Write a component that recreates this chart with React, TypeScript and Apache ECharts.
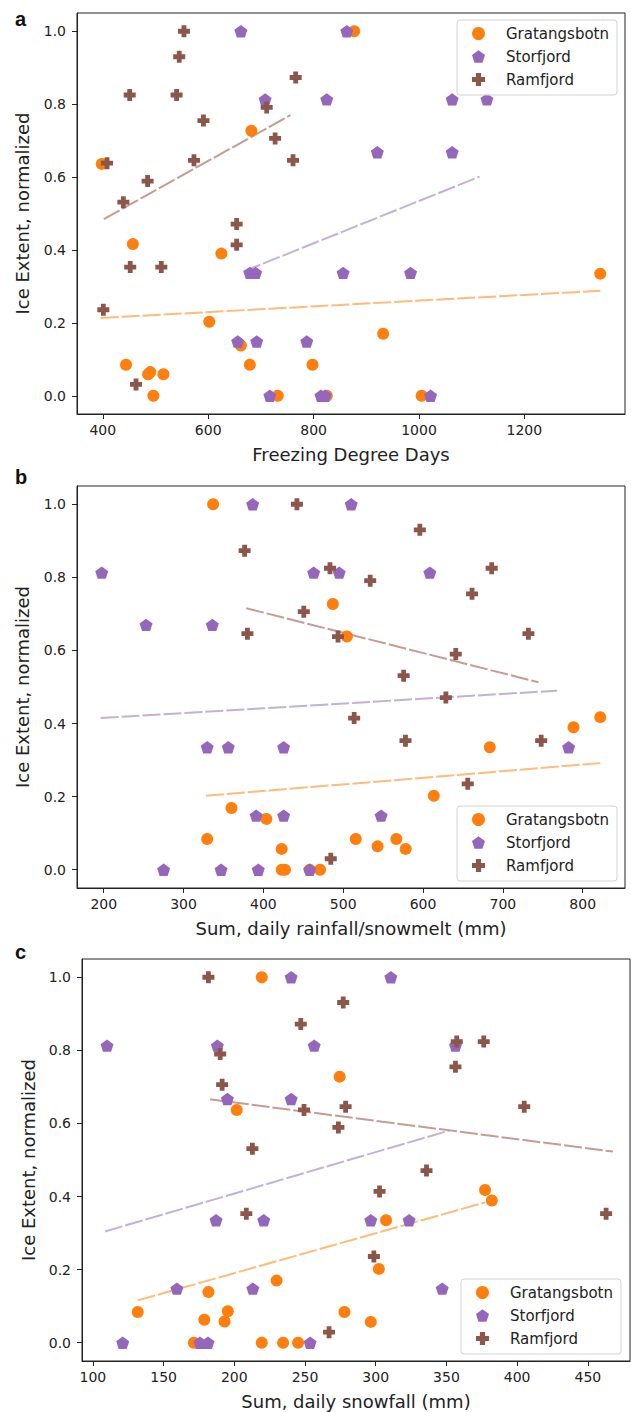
import React, { useEffect, useRef } from "react";
import * as echarts from "echarts";

// ---------- data ----------
const SITES = ["Gratangsbotn", "Storfjord", "Ramfjord"];
const Y_TICKS = [0, 0.2, 0.4, 0.6, 0.8, 1.0];
const X_TICKS_A = [400, 600, 800, 1000, 1200];
const X_TICKS_B = [200, 300, 400, 500, 600, 700, 800];
const X_TICKS_C = [100, 150, 200, 250, 300, 350, 400, 450];

// Panel a: Freezing Degree Days
const gratA = [[398,0.636],[457,0.416],[625,0.39],[682,0.727],[877,1.0],[602,0.203],[1344,0.335],[932,0.17],[662,0.138],[444,0.085],[486,0.059],[490,0.065],[515,0.059],[679,0.085],[798,0.085],[496,0],[732,0],[825,0],[1005,0]];
const storA = [[662,1.0],[863,1.0],[708,0.813],[825,0.813],[1063,0.813],[1129,0.813],[921,0.668],[1063,0.668],[679,0.337],[690,0.337],[856,0.337],[984,0.337],[656,0.149],[692,0.149],[787,0.149],[717,0],[814,0],[822,0],[1022,0]];
const ramA = [[554,1.0],[545,0.93],[766,0.873],[451,0.825],[540,0.825],[711,0.791],[591,0.755],[727,0.706],[408,0.638],[573,0.646],[761,0.646],[485,0.589],[439,0.531],[654,0.471],[654,0.414],[452,0.353],[511,0.353],[401,0.236],[463,0.031]];
const gratFitA = [[396,0.2135],[1344,0.288]];
const storFitA = [[667,0.341],[1115,0.601]];
const ramFitA = [[402,0.4845],[756,0.77]];

// Panel b: Sum, daily rainfall/snowmelt (mm)
const gratB = [[337,1.0],[487,0.727],[504.6,0.638],[822,0.4175],[788.5,0.39],[683.6,0.335],[613.5,0.2024],[360,0.169],[403.7,0.139],[329.6,0.084],[422.9,0.057],[515.7,0.084],[543,0.064],[566.6,0.084],[578.2,0.057],[423,0],[427,0],[458,0],[471,0]];
const storB = [[386.6,1.0],[510,1.0],[197.5,0.813],[463,0.813],[495,0.813],[608.5,0.813],[253,0.67],[336,0.67],[329.6,0.335],[356,0.335],[425.4,0.335],[782.4,0.335],[391,0.148],[425.4,0.148],[547.5,0.148],[275,0],[347,0],[393.6,0],[458,0]];
const ramB = [[442,1.0],[596,0.93],[376.5,0.873],[483.4,0.825],[686,0.825],[533.8,0.791],[661.4,0.755],[450.6,0.706],[380,0.646],[493.5,0.638],[732,0.646],[641,0.59],[575.7,0.531],[628.6,0.471],[513.7,0.415],[578,0.353],[748,0.353],[656,0.235],[484.4,0.03]];
const gratFitB = [[328,0.2024],[822,0.2917]];
const storFitB = [[196,0.415],[768,0.49]];
const ramFitB = [[378.5,0.7156],[744.6,0.513]];

// Panel c: Sum, daily snowfall (mm)
const gratC = [[219.4,1.0],[274.5,0.728],[201.7,0.637],[377.3,0.418],[382.1,0.389],[307.3,0.335],[302.2,0.202],[229.9,0.17],[181.7,0.139],[131.7,0.084],[195.4,0.086],[178.8,0.063],[193.1,0.058],[277.9,0.084],[296.5,0.057],[171.4,0],[219.4,0],[234.5,0],[245.1,0]];
const storC = [[240.2,1.0],[310.7,1.0],[110,0.813],[188,0.813],[256.5,0.813],[356.4,0.813],[195.1,0.667],[240.2,0.667],[187.1,0.335],[220.8,0.335],[296.5,0.335],[323.6,0.335],[159.4,0.148],[213.1,0.148],[347,0.148],[121.1,0],[175.7,0],[181.4,0],[253.6,0]];
const ramC = [[181.7,1.0],[277,0.931],[247,0.872],[357.3,0.824],[376.4,0.824],[190,0.79],[356.4,0.755],[191.4,0.706],[278.7,0.646],[405,0.646],[249.3,0.637],[273.6,0.589],[212.8,0.531],[335.9,0.471],[302.7,0.414],[208.5,0.353],[462.9,0.353],[298.7,0.236],[267,0.029]];
const gratFitC = [[131.7,0.1158],[377.3,0.384]];
const storFitC = [[108.6,0.3045],[352.1,0.5807]];
const ramFitC = [[182.8,0.666],[467.8,0.523]];

const X_TITLES = ["Freezing Degree Days", "Sum, daily rainfall/snowmelt (mm)", "Sum, daily snowfall (mm)"];
const Y_TITLE = "Ice Extent, normalized";
const PANEL_LABELS = ["a", "b", "c"];

// ---------- styles ----------
const COLORS = ["#ff7f0e", "#9467bd", "#8c564b"];
const FIT_COLORS = ["#ffbb78", "#c5b0d5", "#c49c94"];
const PENTAGON = "path://M0,-1L0.951,-0.309L0.588,0.809L-0.588,0.809L-0.951,-0.309Z";
const PLUS = "path://M3.6,0H8.4V3.6H12V8.4H8.4V12H3.6V8.4H0V3.6H3.6Z";
const SYMBOLS = ["circle", PENTAGON, PLUS];
const SYMBOL_SIZES = [12, 13, 12];
const FONT = "DejaVu Sans";

const PANELS = [
  { grid: { left: 77, top: 13, width: 548, height: 401 }, xMin: 351, xMax: 1391, xTicks: X_TICKS_A,
    pts: [gratA, storA, ramA], fits: [gratFitA, storFitA, ramFitA],
    legend: { left: 457, top: 20 }, label: { x: 15, y: 29 }, yGap: 46 },
  { grid: { left: 77, top: 486, width: 548, height: 402 }, xMin: 166.5, xMax: 853, xTicks: X_TICKS_B,
    pts: [gratB, storB, ramB], fits: [gratFitB, storFitB, ramFitB],
    legend: { left: 457, top: 806 }, label: { x: 15, y: 487 }, yGap: 46 },
  { grid: { left: 82, top: 959, width: 548, height: 402 }, xMin: 92.3, xMax: 479.8, xTicks: X_TICKS_C,
    pts: [gratC, storC, ramC], fits: [gratFitC, storFitC, ramFitC],
    legend: { left: 461, top: 1279 }, label: { x: 15, y: 962 }, yGap: 45 },
];

export default function App() {
  const ref = useRef<HTMLDivElement>(null);
  useEffect(() => {
    if (!ref.current) return;
    const chart = echarts.init(ref.current, null, { renderer: "svg" });
    const grid: any[] = [];
    const xAxis: any[] = [];
    const yAxis: any[] = [];
    const series: any[] = [];
    const legend: any[] = [];
    const graphic: any[] = [];
    PANELS.forEach((p, i) => {
      grid.push({ ...p.grid, show: true, borderColor: "#222", borderWidth: 1, backgroundColor: "transparent" });
      xAxis.push({
        type: "value", gridIndex: i, min: p.xMin, max: p.xMax,
        name: X_TITLES[i], nameLocation: "middle", nameGap: 31,
        nameTextStyle: { fontFamily: FONT, fontSize: 18, color: "#222" },
        axisLine: { show: true, onZero: false, lineStyle: { color: "#222", width: 1 } },
        axisTick: { show: true, length: 5, customValues: p.xTicks, lineStyle: { color: "#222" } },
        axisLabel: { customValues: p.xTicks, margin: 9, fontFamily: FONT, fontSize: 14, color: "#222",
          formatter: (v: number) => String(v) },
        splitLine: { show: false },
      });
      yAxis.push({
        type: "value", gridIndex: i, min: -0.05, max: 1.05,
        name: Y_TITLE, nameLocation: "middle", nameGap: p.yGap, nameRotate: 90,
        nameTextStyle: { fontFamily: FONT, fontSize: 18, color: "#222" },
        axisLine: { show: true, onZero: false, lineStyle: { color: "#222", width: 1 } },
        axisTick: { show: true, length: 5, customValues: Y_TICKS, lineStyle: { color: "#222" } },
        axisLabel: { customValues: Y_TICKS, margin: 11, fontFamily: FONT, fontSize: 14, color: "#222",
          formatter: (v: number) => v.toFixed(1) },
        splitLine: { show: false },
      });
      SITES.forEach((s, k) => {
        series.push({
          type: "line", name: s + " fit", xAxisIndex: i, yAxisIndex: i, data: p.fits[k],
          showSymbol: false, silent: true, z: 1,
          lineStyle: { color: FIT_COLORS[k], width: 2, type: [18, 3] },
        });
      });
      SITES.forEach((s, k) => {
        series.push({
          type: "scatter", name: s, xAxisIndex: i, yAxisIndex: i, data: p.pts[k],
          symbol: SYMBOLS[k], symbolSize: SYMBOL_SIZES[k], symbolKeepAspect: true, z: 3,
          itemStyle: { color: COLORS[k], opacity: 1 },
        });
      });
      legend.push({
        data: SITES, orient: "vertical", left: p.legend.left, top: p.legend.top,
        padding: [6, 8, 8, 15], itemWidth: 13, itemHeight: 13, itemGap: 8,
        selectedMode: false,
        backgroundColor: "rgba(255,255,255,0.8)", borderColor: "#d3d3d3", borderWidth: 1, borderRadius: 3,
        textStyle: { fontFamily: FONT, fontSize: 15, color: "#222", padding: [0, 0, 0, 16] },
      });
      graphic.push({
        type: "text", x: p.label.x, y: p.label.y,
        style: { text: PANEL_LABELS[i], font: 'bold 20px "Liberation Sans"', fill: "#111", verticalAlign: "bottom" },
      });
    });
    chart.setOption({
      animation: false,
      backgroundColor: "#fff",
      grid, xAxis, yAxis, series, legend, graphic,
    });
    return () => chart.dispose();
  }, []);
  return (
    <div
      ref={ref}
      style={{ position: "absolute", left: 0, top: 0, width: 631, height: 1412, background: "#fff" }}
    />
  );
}
